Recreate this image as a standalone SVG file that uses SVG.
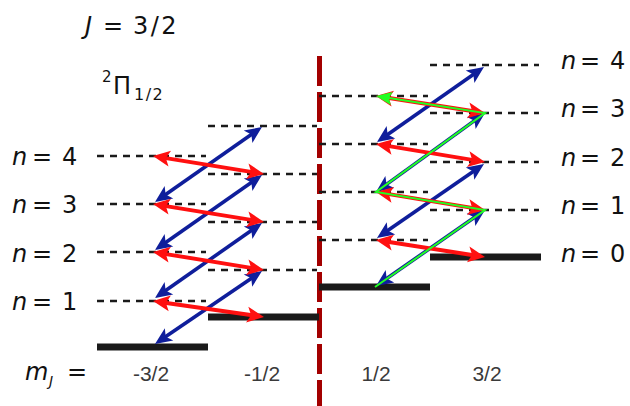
<svg xmlns="http://www.w3.org/2000/svg" width="630" height="406" viewBox="0 0 630 406">
<style>
.math{font-family:"DejaVu Sans","Liberation Sans",sans-serif;fill:#111}
.it{font-style:italic}
.tick{font-family:"Liberation Sans",Arial,sans-serif;font-size:21px;fill:#3a3a3a;text-anchor:middle}
.lvl{stroke:#1a1a1a;stroke-width:2.6;stroke-dasharray:7 6;fill:none}
.bar{fill:#1a1a1a}
.red{stroke:#ff1010;stroke-width:4;fill:none;marker-start:url(#hr);marker-end:url(#hr)}
.blue{stroke:#0f1e9b;stroke-width:3.6;fill:none;marker-start:url(#hb);marker-end:url(#hb)}
.green{stroke:#22ff22;stroke-width:2;fill:none;stroke-linejoin:miter;marker-end:url(#hg)}
</style>
<defs>
<marker id="hr" markerUnits="userSpaceOnUse" orient="auto-start-reverse" refX="0" refY="0" markerWidth="30" markerHeight="30" overflow="visible"><path d="M10,0 L-7,-8 L-3,0 L-7,8 Z" fill="#ff1010"/></marker>
<marker id="hb" markerUnits="userSpaceOnUse" orient="auto-start-reverse" refX="0" refY="0" markerWidth="30" markerHeight="30" overflow="visible"><path d="M10,0 L-7,-7.5 L-3,0 L-7,7.5 Z" fill="#0f1e9b"/></marker>
<marker id="hg" markerUnits="userSpaceOnUse" orient="auto" refX="0" refY="0" markerWidth="30" markerHeight="30" overflow="visible"><path d="M10,0 L-6,-6.5 L-3,0 L-6,6.5 Z" fill="#22ff22"/></marker>
</defs>

<g id="labels">
<text class="math it" x="85" y="34" font-size="24">J</text>
<text class="math" x="103" y="34" font-size="24">=</text>
<text class="math" x="133" y="34" font-size="24" letter-spacing="2.5">3/2</text>
<text class="math" x="102" y="82" font-size="15">2</text>
<text class="math" x="113" y="94" font-size="24">Π</text>
<text class="math" x="134" y="100" font-size="16" letter-spacing="1.5">1/2</text>
</g>

<line id="divider" x1="319.5" y1="56" x2="319.5" y2="406" stroke="#a30000" stroke-width="5" stroke-dasharray="30 6"/>

<g id="levels">
<path class="lvl" d="M97,156H206M97,204H206M97,252H206M97,301H206"/>
<path class="lvl" d="M208,126H317M208,174H317M208,222H317M208,270H317"/>
<path class="lvl" d="M319,96H428M319,144H428M319,192H428M319,240H428"/>
<path class="lvl" d="M430,65H539M430,113H539M430,162H539M430,210H539"/>
</g>

<g id="bars">
<rect id="bar-m32" class="bar" x="97" y="343.5" width="111" height="7"/>
<rect id="bar-m12" class="bar" x="208" y="313.5" width="111" height="7"/>
<rect id="bar-p12" class="bar" x="319" y="283.5" width="111" height="7"/>
<rect id="bar-p32" class="bar" x="430" y="253.5" width="111" height="7"/>
</g>

<g id="left-n">
<g id="ln4"><text class="math it" x="12" y="165" font-size="24">n</text><text class="math" x="32" y="165" font-size="24">=</text><text class="math" x="62" y="165" font-size="24">4</text></g>
<g id="ln3"><text class="math it" x="12" y="213" font-size="24">n</text><text class="math" x="32" y="213" font-size="24">=</text><text class="math" x="62" y="213" font-size="24">3</text></g>
<g id="ln2"><text class="math it" x="12" y="262" font-size="24">n</text><text class="math" x="32" y="262" font-size="24">=</text><text class="math" x="62" y="262" font-size="24">2</text></g>
<g id="ln1"><text class="math it" x="12" y="310" font-size="24">n</text><text class="math" x="32" y="310" font-size="24">=</text><text class="math" x="62" y="310" font-size="24">1</text></g>
</g>

<g id="right-n">
<g id="rn4"><text class="math it" x="561" y="69" font-size="24">n</text><text class="math" x="580" y="69" font-size="24">=</text><text class="math" x="610" y="69" font-size="24">4</text></g>
<g id="rn3"><text class="math it" x="561" y="117" font-size="24">n</text><text class="math" x="580" y="117" font-size="24">=</text><text class="math" x="610" y="117" font-size="24">3</text></g>
<g id="rn2"><text class="math it" x="561" y="166" font-size="24">n</text><text class="math" x="580" y="166" font-size="24">=</text><text class="math" x="610" y="166" font-size="24">2</text></g>
<g id="rn1"><text class="math it" x="561" y="214" font-size="24">n</text><text class="math" x="580" y="214" font-size="24">=</text><text class="math" x="610" y="214" font-size="24">1</text></g>
<g id="rn0"><text class="math it" x="561" y="262" font-size="24">n</text><text class="math" x="580" y="262" font-size="24">=</text><text class="math" x="610" y="262" font-size="24">0</text></g>
</g>

<g id="mj-axis">
<text class="math it" x="25" y="380" font-size="24">m</text>
<text class="math it" x="49" y="386" font-size="14">J</text>
<text class="math" x="67" y="380" font-size="24">=</text>
<text class="tick" x="151" y="381">-3/2</text>
<text class="tick" x="262" y="381">-1/2</text>
<text class="tick" x="376" y="381">1/2</text>
<text class="tick" x="487" y="381">3/2</text>
</g>

<g id="connectors">
<path class="blue" d="M163.26,338.36L253.74,276.64"/>
<path class="blue" d="M163.19,292.26L253.81,228.74"/>
<path class="blue" d="M163.19,244.26L253.81,180.74"/>
<path class="blue" d="M163.19,196.26L253.81,132.74"/>
<path class="blue" d="M384.20,280.28L476.80,215.72"/>
<path class="blue" d="M385.22,232.31L475.78,169.69"/>
<path class="blue" d="M384.10,186.13L476.90,118.87"/>
<path class="blue" d="M385.19,136.26L475.81,72.74"/>
<path class="red" d="M162.87,157.60L254.13,172.40"/>
<path class="red" d="M162.87,205.60L254.13,220.40"/>
<path class="red" d="M162.87,253.60L254.13,268.40"/>
<path class="red" d="M162.90,302.43L254.10,315.57"/>
<path class="red" d="M385.88,241.54L475.12,255.46"/>
<path class="red" d="M385.87,145.63L475.13,160.37"/>
<path class="red" d="M385.87,193.63L475.13,208.37"/>
<path class="red" d="M385.88,97.54L475.12,111.46"/>
<path class="green" d="M375,287L485,210L376,192L485,113L385.88,97.54"/>
</g>
</svg>
